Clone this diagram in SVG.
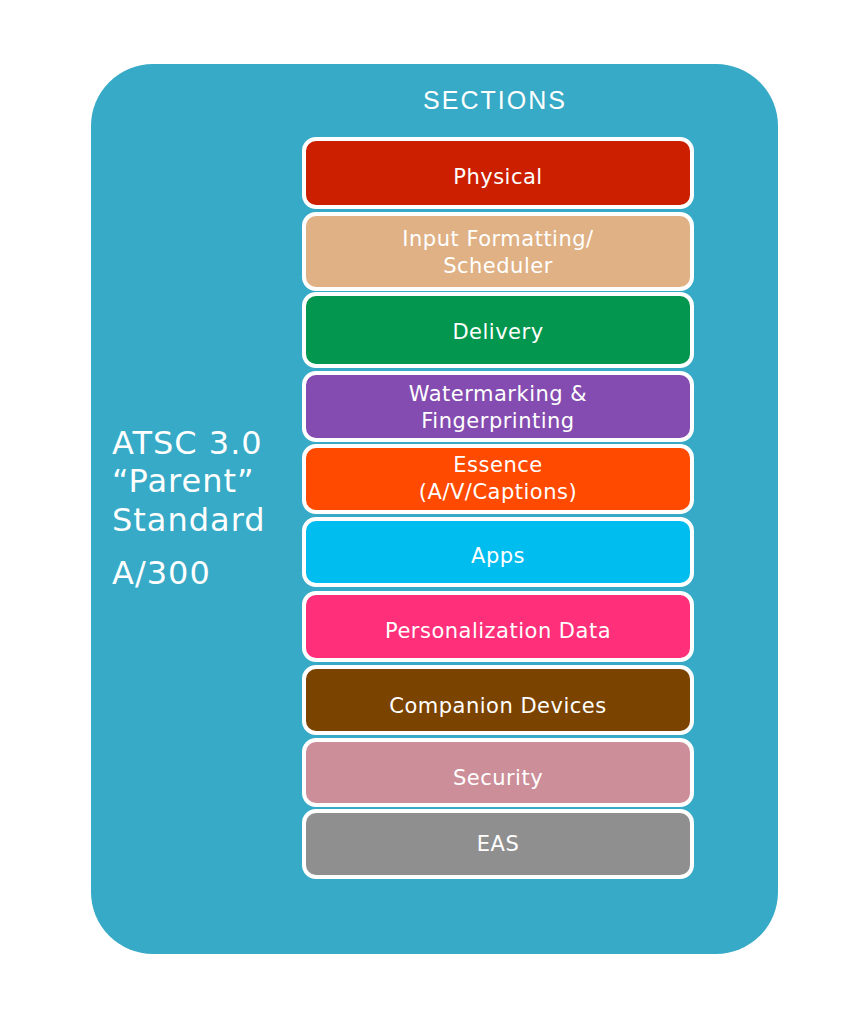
<svg xmlns="http://www.w3.org/2000/svg" width="861" height="1024" viewBox="0 0 861 1024">
<style>
.box{stroke:#fff;stroke-width:4}
.lbl{font-family:"DejaVu Sans","Liberation Sans",sans-serif;font-size:21px;fill:#fff;text-anchor:middle;letter-spacing:0.5px}
.big{font-family:"DejaVu Sans","Liberation Sans",sans-serif;font-size:32px;fill:#fff;letter-spacing:1px}
</style>
<rect width="861" height="1024" fill="#fff"/>
<g id="frame">
<rect x="91" y="64" width="687" height="890" rx="62" fill="#36aac6"/>
<text x="495" y="109" font-family="Liberation Sans, sans-serif" font-size="25" fill="#fff" text-anchor="middle" letter-spacing="2">SECTIONS</text>
</g>
<g id="parent">
<text class="big" x="112" y="454">ATSC 3.0</text>
<text class="big" x="112" y="492">“Parent”</text>
<text class="big" x="112" y="531">Standard</text>
<text class="big" x="112" y="584">A/300</text>
</g>
<g id="physical"><rect class="box" x="304" y="139" width="388" height="68" rx="12" fill="#cc1f00"/><text class="lbl" x="498" y="184">Physical</text></g>
<g id="input"><rect class="box" x="304" y="214" width="388" height="75" rx="12" fill="#dfb185"/><text class="lbl" x="498" y="246">Input Formatting/</text><text class="lbl" x="498" y="273">Scheduler</text></g>
<g id="delivery"><rect class="box" x="304" y="294" width="388" height="72" rx="12" fill="#02964e"/><text class="lbl" x="498" y="339">Delivery</text></g>
<g id="watermarking"><rect class="box" x="304" y="373" width="388" height="67" rx="12" fill="#844cb0"/><text class="lbl" x="498" y="401">Watermarking &amp;</text><text class="lbl" x="498" y="428">Fingerprinting</text></g>
<g id="essence"><rect class="box" x="304" y="446" width="388" height="66" rx="12" fill="#ff4a00"/><text class="lbl" x="498" y="472">Essence</text><text class="lbl" x="498" y="499">(A/V/Captions)</text></g>
<g id="apps"><rect class="box" x="304" y="519" width="388" height="66" rx="12" fill="#00bdf0"/><text class="lbl" x="498" y="563">Apps</text></g>
<g id="personalization"><rect class="box" x="304" y="593" width="388" height="67" rx="12" fill="#ff2f7a"/><text class="lbl" x="498" y="638">Personalization Data</text></g>
<g id="companion"><rect class="box" x="304" y="667" width="388" height="66" rx="12" fill="#7b4300"/><text class="lbl" x="498" y="713">Companion Devices</text></g>
<g id="security"><rect class="box" x="304" y="740" width="388" height="65" rx="12" fill="#cc8e99"/><text class="lbl" x="498" y="785">Security</text></g>
<g id="eas"><rect class="box" x="304" y="811" width="388" height="66" rx="12" fill="#8f8f8f"/><text class="lbl" x="498" y="851">EAS</text></g>
<g id="connectors"></g>
</svg>
